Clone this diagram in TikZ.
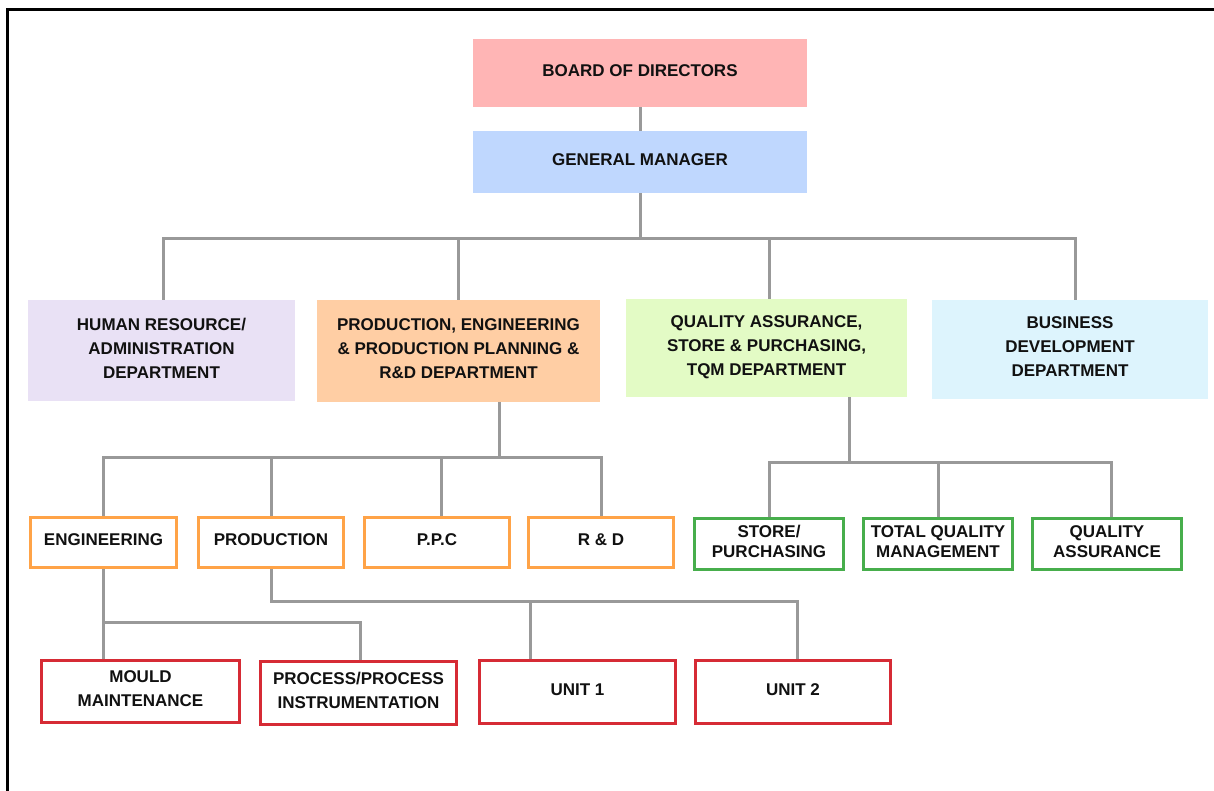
\documentclass[tikz,border=0pt]{standalone}
\usepackage{fontspec}
\setmainfont{Liberation Sans}
\definecolor{bodfill}{HTML}{FFB5B5}
\definecolor{gmfill}{HTML}{BFD7FE}
\definecolor{hrfill}{HTML}{E9E1F5}
\definecolor{pedfill}{HTML}{FFCEA4}
\definecolor{qafill}{HTML}{E3FBC5}
\definecolor{bdfill}{HTML}{DDF4FD}
\definecolor{orangeline}{HTML}{FFA347}
\definecolor{greenline}{HTML}{47AE4C}
\definecolor{redline}{HTML}{D62B35}
\definecolor{connline}{HTML}{999999}
\definecolor{ink}{HTML}{111111}
\begin{document}
\begin{tikzpicture}[x=1pt,y=-1pt,
  lbl/.style={font=\fontsize{17}{24}\selectfont\bfseries, text=ink,
    align=center, inner sep=0pt, rectangle, text depth=5pt},
  headbox/.style={lbl, fill=#1, draw=none},
  subbox/.style={lbl, fill=white, draw=#1, line width=3pt},
  tight/.style={font=\fontsize{17}{20}\selectfont\bfseries},
  conn/.style={draw=connline, line width=3pt}]

\useasboundingbox (0,0) rectangle (1214,791);
% page frame (top and left rules)
\draw[line width=3pt, black] (7,791) -- (7,9.5) -- (1214,9.5);

% top of the tree
\node[headbox=bodfill, minimum width=334, minimum height=68] (bod) at (640,73) {BOARD OF DIRECTORS};
\node[headbox=gmfill, minimum width=334, minimum height=62] (gm) at (640,162) {GENERAL MANAGER};

% departments
\node[headbox=hrfill, minimum width=267, minimum height=101] (hr) at (161.5,350.5)
  {HUMAN RESOURCE/\\ADMINISTRATION\\DEPARTMENT};
\node[headbox=pedfill, minimum width=283, minimum height=102] (ped) at (458.5,351)
  {PRODUCTION, ENGINEERING\\\& PRODUCTION PLANNING \&\\R\&D DEPARTMENT};
\node[headbox=qafill, minimum width=281, minimum height=98] (qa) at (766.5,348)
  {QUALITY ASSURANCE,\\STORE \& PURCHASING,\\TQM DEPARTMENT};
\node[headbox=bdfill, minimum width=276, minimum height=99] (bd) at (1070,349.5)
  {BUSINESS\\DEVELOPMENT\\DEPARTMENT};

% production / engineering sections
\node[subbox=orangeline, minimum width=146, minimum height=50] (eng) at (103.5,542.5) {ENGINEERING};
\node[subbox=orangeline, minimum width=145, minimum height=50] (prod) at (271,542.5) {PRODUCTION};
\node[subbox=orangeline, minimum width=145, minimum height=50] (ppc) at (437,542.5) {P.P.C};
\node[subbox=orangeline, minimum width=145, minimum height=50] (rd) at (601,542.5) {R \& D};

% quality / store sections
\node[subbox=greenline, tight, minimum width=149, minimum height=51] (store) at (769,544) {STORE/\\PURCHASING};
\node[subbox=greenline, tight, minimum width=149, minimum height=51] (tqm) at (938,544) {TOTAL QUALITY\\MANAGEMENT};
\node[subbox=greenline, tight, minimum width=149, minimum height=51] (qas) at (1107,544) {QUALITY\\ASSURANCE};

% shop-floor units
\node[subbox=redline, minimum width=198, minimum height=62] (mould) at (140.5,691.5) {MOULD\\MAINTENANCE};
\node[subbox=redline, minimum width=196, minimum height=63] (proc) at (358.5,693) {PROCESS/PROCESS\\INSTRUMENTATION};
\node[subbox=redline, minimum width=196, minimum height=63] (u1) at (577.5,692) {UNIT 1};
\node[subbox=redline, minimum width=195, minimum height=63] (u2) at (793,692) {UNIT 2};

% bus rows
\coordinate (busA) at (0,239);
\coordinate (busB) at (0,457);
\coordinate (busC) at (0,462);
\coordinate (busD) at (0,601);
\coordinate (busE) at (0,622);

% board -> general manager -> departments
\draw[conn] (bod) -- (gm);
\draw[conn] (gm.south) -- (gm.south |- busA);
\draw[conn] ([xshift=1.5]hr.north) |- ([xshift=5]busA -| bd.north) -- ([xshift=5]bd.north);
\draw[conn] (ped.north) -- (ped.north |- busA);
\draw[conn] ([xshift=3]qa.north) -- ([xshift=3]qa.north |- busA);

% production & engineering department -> sections
\coordinate (pedout) at ([xshift=40.5]ped.south);
\draw[conn] (pedout) -- (pedout |- busB);
\draw[conn] (eng.north) |- (busB -| rd.north) -- (rd.north);
\draw[conn] (prod.north) -- (prod.north |- busB);
\draw[conn] ([xshift=4]ppc.north) -- ([xshift=4]ppc.north |- busB);

% quality department -> sections
\coordinate (qaout) at ([xshift=82.5]qa.south);
\draw[conn] (qaout) -- (qaout |- busC);
\draw[conn] (store.north) |- ([xshift=4]busC -| qas.north) -- ([xshift=4]qas.north);
\draw[conn] (tqm.north) -- (tqm.north |- busC);

% engineering -> units
\draw[conn] (eng.south) -- (eng.south |- mould.north);
\draw[conn] (eng.south |- busE) -| ([xshift=1.5]proc.north);

% production -> units
\coordinate (u1in) at ([xshift=-47.5]u1.north);
\draw[conn] (prod.south) |- ([xshift=4]busD -| u2.north) -- ([xshift=4]u2.north);
\draw[conn] (u1in |- busD) -- (u1in);
\end{tikzpicture}
\end{document}
